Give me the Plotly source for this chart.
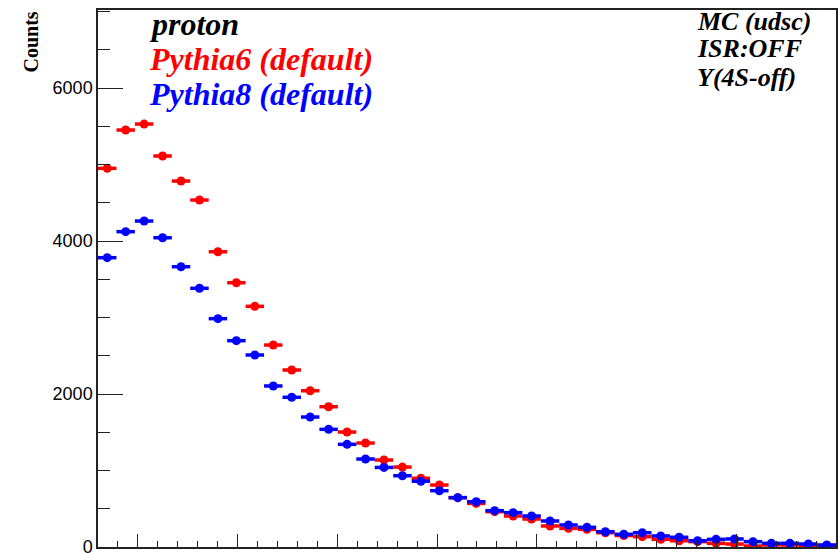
import numpy as np
import plotly.graph_objects as go

# Histogram binning (40 bins)
x_lo, x_hi, n_bins = 0.3, 4.0, 40
edges = np.linspace(x_lo, x_hi, n_bins + 1)
centers = 0.5 * (edges[:-1] + edges[1:])
half_w = 0.5 * (edges[1] - edges[0])

pythia6 = [4950, 5451, 5529, 5111, 4784, 4536, 3860, 3455, 3146, 2640,
           2314, 2043, 1834, 1503, 1359, 1137, 1045, 898, 810, 645,
           570, 462, 405, 366, 275, 244, 231, 187, 150, 135,
           100, 82, 70, 48, 39, 13, 26, 26, 13, 20]
pythia8 = [3782, 4122, 4261, 4043, 3664, 3382, 2985, 2697, 2510, 2105,
           1957, 1699, 1538, 1342, 1150, 1040, 932, 860, 736, 645,
           592, 475, 449, 405, 340, 288, 257, 200, 166, 187,
           144, 127, 82, 100, 105, 70, 48, 48, 39, 26]

y_ticks = [0, 2000, 4000, 6000]

fig = go.Figure()
for name, vals, col in [("Pythia6 (default)", pythia6, "#ff0000"),
                        ("Pythia8 (default)", pythia8, "#0000ff")]:
    fig.add_trace(go.Scatter(
        x=centers, y=vals, mode="markers", name=name,
        marker=dict(color=col, size=9, symbol="circle"),
        error_x=dict(type="constant", value=half_w, color=col,
                     thickness=3.5, width=0),
        showlegend=False))

serif = "Liberation Serif, Times New Roman, serif"
fig.update_layout(
    width=839, height=553,
    margin=dict(l=98, r=3, t=10, b=6),
    paper_bgcolor="white", plot_bgcolor="white",
    xaxis=dict(range=[x_lo, x_hi], showgrid=False, zeroline=False,
               showline=True, linecolor="#222", linewidth=1.5, mirror=True,
               ticks="inside", ticklen=13, tickwidth=1.2, tickcolor="#222",
               tick0=0.5, dtick=0.5, showticklabels=False, automargin=False,
               minor=dict(ticks="inside", ticklen=6, dtick=0.1,
                          tickcolor="#222", tickwidth=1.2)),
    yaxis=dict(range=[0, 7020], showgrid=False, zeroline=False,
               showline=True, linecolor="#222", linewidth=1.5, mirror=True,
               ticks="inside", ticklen=25, tickwidth=1.2, tickcolor="#222",
               tickvals=y_ticks, ticktext=[str(v) for v in y_ticks],
               ticklabeloverflow="allow", automargin=False,
               tickfont=dict(family="Liberation Sans, Arial, sans-serif",
                             size=18, color="black"),
               minor=dict(ticks="inside", ticklen=12, dtick=500,
                          tickcolor="#222", tickwidth=1.2)),
)

def ann(text, px, py, size, color="black", xanchor="left", angle=0, yanchor="middle"):
    fig.add_annotation(
        text=text, xref="paper", yref="paper",
        x=(px - 98) / 738.0, y=(547 - py) / 537.0,
        xanchor=xanchor, yanchor=yanchor, showarrow=False, textangle=angle,
        font=dict(family=serif, size=size, color=color))

ann("<b>Counts</b>", 30, 10, 20, angle=-90, xanchor="center", yanchor="top")
ann("<b><i>proton</i></b>", 147, 24, 32)
ann("<b><i>Pythia6 (default)</i></b>", 147, 59, 32, color="#ff0000")
ann("<b><i>Pythia8 (default)</i></b>", 147, 94, 32, color="#0000ff")
ann("<b><i>MC (udsc)</i></b>", 695, 21, 26)
ann("<b><i>ISR:OFF</i></b>", 695, 49, 26)
ann("<b><i>Y(4S-off)</i></b>", 695, 77, 26)

fig.write_html("out.html")
